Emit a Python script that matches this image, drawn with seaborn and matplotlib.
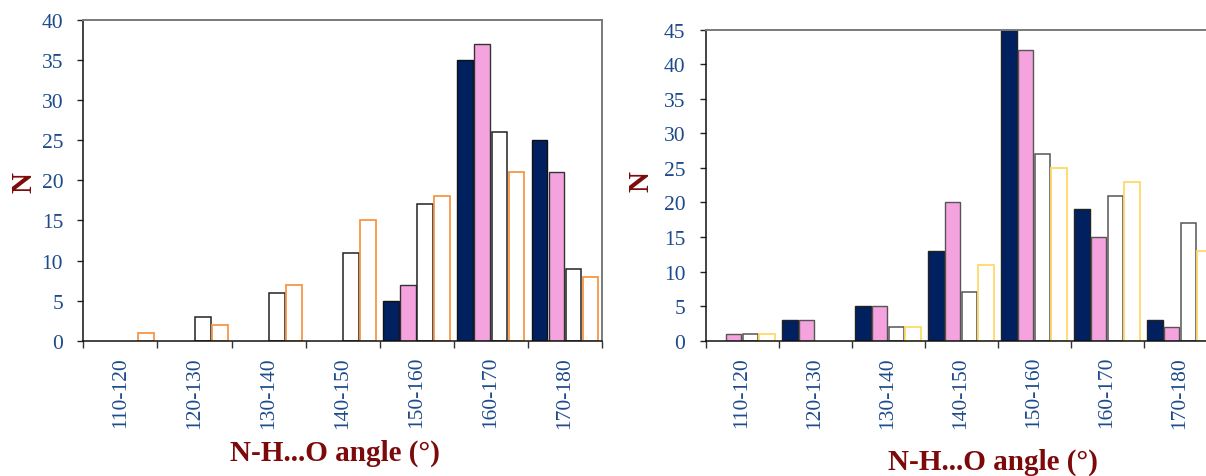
import numpy as np
import pandas as pd
import matplotlib
matplotlib.use("Agg")
import matplotlib.pyplot as plt
import seaborn as sns

# Angle bins shared by both histograms
ranges = ["110-120", "120-130", "130-140", "140-150", "150-160", "160-170", "170-180"]

# Left panel: counts per angle bin for four structure sets
left_navy = [0, 0, 0, 0, 5, 35, 25]
left_pink = [0, 0, 0, 0, 7, 37, 21]
left_white = [0, 3, 6, 11, 17, 26, 9]
left_orange = [1, 2, 7, 15, 18, 21, 8]

# Right panel: counts per angle bin for four structure sets
right_navy = [0, 3, 5, 13, 45, 19, 3]
right_pink = [1, 3, 5, 20, 42, 15, 2]
right_white = [1, 0, 2, 7, 27, 21, 17]
right_yellow = [1, 0, 2, 11, 25, 23, 13]

left_ticks = list(range(0, 41, 5))
right_ticks = list(range(0, 46, 5))

sns.set_style("white")
plt.rcParams["font.family"] = ["Liberation Serif", "DejaVu Serif"]

TICK_BLUE = "#1d4a8c"
LABEL_RED = "#7d0a0a"


def long_table(series):
    rows = []
    for name, values in series.items():
        for r, v in zip(ranges, values):
            rows.append({"range": r, "set": name, "N": v})
    return pd.DataFrame(rows)


def draw_panel(ax, series, styles, ymax, yticks, xlab_pos, ylab_pos):
    df = long_table(series)
    names = list(series.keys())
    palette = {n: styles[n][0] for n in names}
    sns.barplot(data=df, x="range", y="N", hue="set", hue_order=names,
                order=ranges, palette=palette, width=0.92, gap=0.08,
                saturation=1, legend=False, ax=ax, errorbar=None)
    for name, cont in zip(names, ax.containers):
        face, edge, lw = styles[name]
        for bar in cont:
            bar.set_facecolor(face)
            bar.set_edgecolor(edge)
            bar.set_linewidth(lw)
            if bar.get_height() == 0:
                bar.set_visible(False)

    ax.set_xlim(-0.5, len(ranges) - 0.5)
    ax.set_ylim(0, ymax)
    ax.set_yticks(yticks)
    ax.set_xticks(range(len(ranges)))
    ax.set_xticklabels(ranges)
    ax.set_xticks(np.arange(-0.5, len(ranges), 1.0), minor=True)

    ax.tick_params(axis="x", which="major", length=0, pad=11,
                   labelrotation=90, labelsize=15.5, labelcolor=TICK_BLUE)
    ax.tick_params(axis="x", which="minor", length=5, width=1.0,
                   color="#333333", direction="out", bottom=True)
    ax.tick_params(axis="y", which="major", length=4.5, width=1.0,
                   color="#222222", direction="out", left=True, pad=10,
                   labelsize=15.5, labelcolor=TICK_BLUE)

    for side in ("left", "bottom"):
        ax.spines[side].set_color("#111111")
        ax.spines[side].set_linewidth(1.1)
    for side in ("top", "right"):
        ax.spines[side].set_color("#7a7a7a")
        ax.spines[side].set_linewidth(1.4)

    ax.set_xlabel("N-H...O angle (°)", fontsize=21, fontweight="bold",
                  color=LABEL_RED, va="center")
    ax.xaxis.set_label_coords(*xlab_pos)
    ax.set_ylabel("N", fontsize=21, fontweight="bold", color=LABEL_RED,
                  va="center")
    ax.yaxis.set_label_coords(*ylab_pos)
    ax.grid(False)


fig = plt.figure(figsize=(12.06, 4.77), dpi=100)
W, H = 1206.0, 477.0

ax_left = fig.add_axes([83.3 / W, 1 - 341.7 / H, (602 - 83.3) / W, (341.7 - 21) / H])
ax_right = fig.add_axes([705.5 / W, 1 - 341.7 / H, 511 / W, (341.7 - 30.7) / H])

left_series = {"set 1": left_navy, "set 2": left_pink,
               "set 3": left_white, "set 4": left_orange}
left_styles = {"set 1": ("#002060", "#111111", 1.0),
               "set 2": ("#f5a3df", "#333333", 1.0),
               "set 3": ("#ffffff", "#222222", 1.1),
               "set 4": ("#ffffff", "#f79646", 1.3)}

right_series = {"set 1": right_navy, "set 2": right_pink,
                "set 3": right_white, "set 4": right_yellow}
right_styles = {"set 1": ("#002060", "#222222", 1.0),
                "set 2": ("#f5a3df", "#555555", 1.0),
                "set 3": ("#ffffff", "#555555", 1.1),
                "set 4": ("#ffffff", "#ffd966", 1.3)}

draw_panel(ax_left, left_series, left_styles, 40, left_ticks,
           ((335 - 83.3) / 518.7, (341.7 - 453) / 320.7),
           ((24 - 83.3) / 518.7, (341.7 - 183) / 320.7))
draw_panel(ax_right, right_series, right_styles, 45, right_ticks,
           ((993 - 705.5) / 511, (341.7 - 462) / 311),
           ((641 - 705.5) / 511, (341.7 - 182) / 311))
ax_right.spines["right"].set_visible(False)

fig.savefig("out.png", dpi=100, facecolor="white")
